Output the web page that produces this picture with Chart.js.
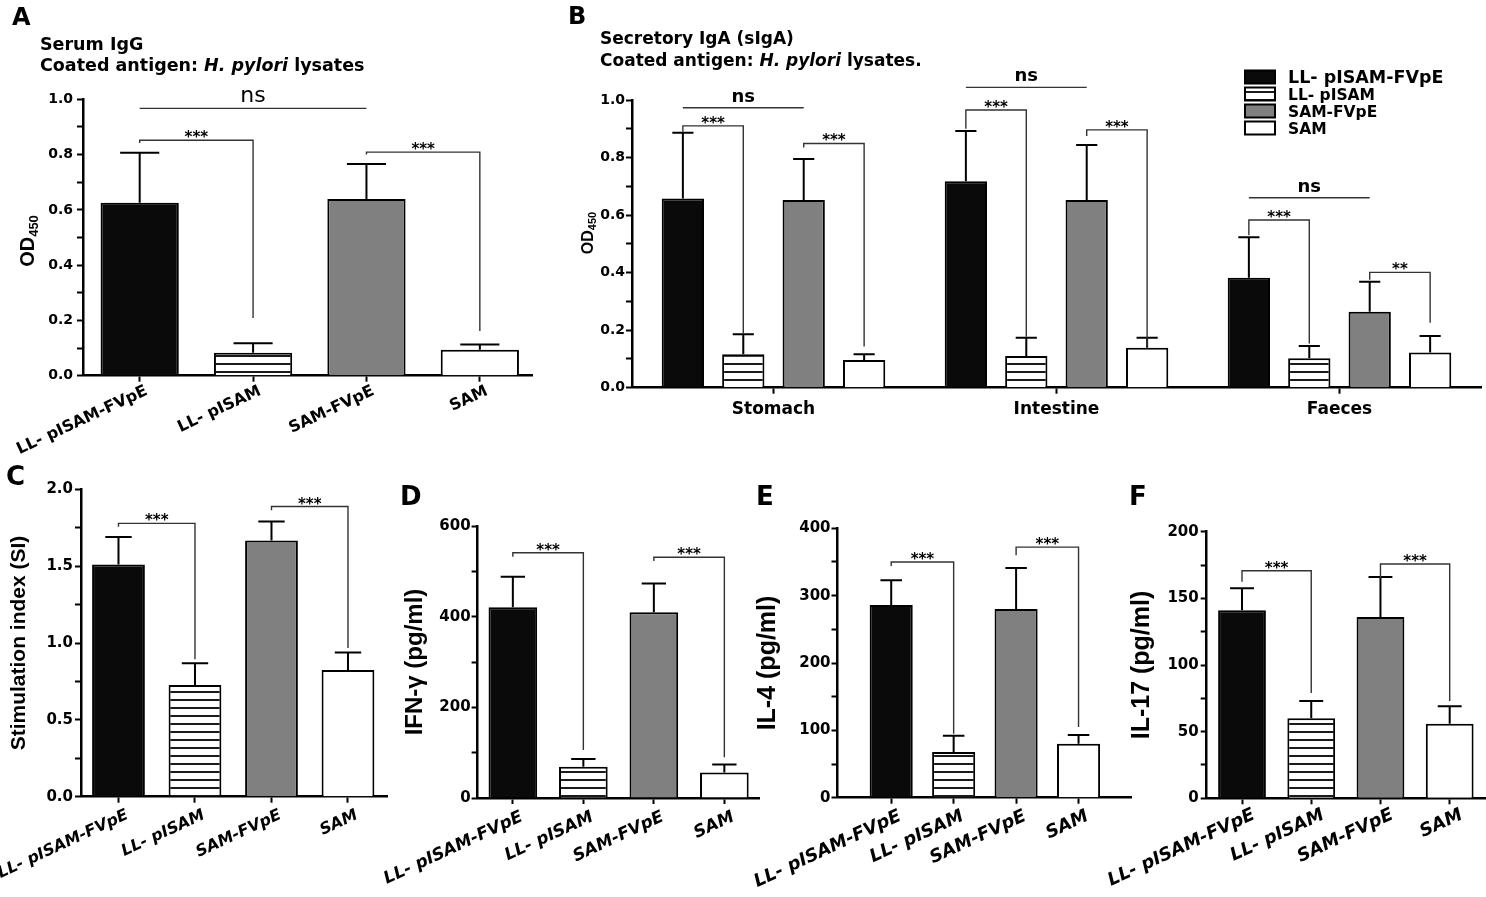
<!DOCTYPE html>
<html>
<head>
<meta charset="utf-8">
<title>Antibody and cytokine responses</title>
<script src="https://cdn.jsdelivr.net/npm/chart.js@4.4.1/dist/chart.umd.min.js"></script>
<style>
  html, body { margin: 0; padding: 0; background: #fff; }
  #fig { position: relative; width: 1486px; height: 897px; overflow: hidden; }
  #fig canvas { position: absolute; left: 0; top: 0; }
</style>
</head>
<body>
<div id="fig">
  <canvas id="chartA" width="1486" height="897"></canvas>
  <canvas id="chartB" width="1486" height="897"></canvas>
  <canvas id="chartC" width="1486" height="897"></canvas>
  <canvas id="chartD" width="1486" height="897"></canvas>
  <canvas id="chartE" width="1486" height="897"></canvas>
  <canvas id="chartF" width="1486" height="897"></canvas>
</div>
<script>
const groups = ['LL- pISAM-FVpE', 'LL- pISAM', 'SAM-FVpE', 'SAM'];
const sites = ['Stomach', 'Intestine', 'Faeces'];

// A: serum IgG, OD450 (mean and SD)
const iggMean = [0.626, 0.083, 0.639, 0.094];
const iggSd = [0.181, 0.034, 0.127, 0.019];

// B: secretory IgA, one array per group over Stomach, Intestine, Faeces
const sigaFvpe = [0.658, 0.718, 0.382];
const sigaFvpeSd = [0.228, 0.174, 0.141];
const sigaPlisam = [0.116, 0.110, 0.102];
const sigaPlisamSd = [0.070, 0.064, 0.043];
const sigaSamFvpe = [0.652, 0.652, 0.264];
const sigaSamFvpeSd = [0.143, 0.192, 0.104];
const sigaSam = [0.096, 0.139, 0.122];
const sigaSamSd = [0.020, 0.035, 0.058];

// C: stimulation index
const siMean = [1.51, 0.726, 1.667, 0.824];
const siSd = [0.179, 0.143, 0.123, 0.115];

// D-F: cytokines (pg/ml)
const ifnMean = [421, 69, 410, 56];
const ifnSd = [67, 17, 63, 18];
const il4Mean = [286, 68, 280, 80];
const il4Sd = [37, 24, 61, 13];
const il17Mean = [141, 60, 136, 56];
const il17Sd = [16.5, 13, 30, 13];

// significance brackets: bars a -> b, level y, leg ends yl / yr (data units)
const iggSig = [
  { a: 0, b: 2, y: 0.967, text: 'ns' },
  { a: 0, b: 1, y: 0.852, yl: 0.842, yr: 0.209, text: '***' },
  { a: 2, b: 3, y: 0.809, yl: 0.800, yr: 0.162, text: '***' }
];
const sigaSig = [
  { g: 0, a: 0, b: 2, y: 0.973, text: 'ns' },
  { g: 0, a: 0, b: 1, y: 0.910, yl: 0.890, yr: 0.189, text: '***' },
  { g: 0, a: 2, b: 3, y: 0.849, yl: 0.835, yr: 0.143, text: '***' },
  { g: 1, a: 0, b: 2, y: 1.044, text: 'ns' },
  { g: 1, a: 0, b: 1, y: 0.965, yl: 0.900, yr: 0.177, text: '***' },
  { g: 1, a: 2, b: 3, y: 0.896, yl: 0.875, yr: 0.143, text: '***' },
  { g: 2, a: 0, b: 2, y: 0.660, text: 'ns' },
  { g: 2, a: 0, b: 1, y: 0.583, yl: 0.530, yr: 0.154, text: '***' },
  { g: 2, a: 2, b: 3, y: 0.401, yl: 0.375, yr: 0.226, text: '**' }
];
const siSig = [
  { a: 0, b: 1, y: 1.778, yl: 1.756, yr: 0.895, text: '***' },
  { a: 2, b: 3, y: 1.888, yl: 1.864, yr: 0.967, text: '***' }
];
const ifnSig = [
  { a: 0, b: 1, y: 541, yl: 532, yr: 106, text: '***' },
  { a: 2, b: 3, y: 531, yl: 523, yr: 90, text: '***' }
];
const il4Sig = [
  { a: 0, b: 1, y: 350, yl: 344, yr: 95, text: '***' },
  { a: 2, b: 3, y: 372, yl: 360, yr: 105, text: '***' }
];
const il17Sig = [
  { a: 0, b: 1, y: 170.7, yl: 162.5, yr: 79, text: '***' },
  { a: 2, b: 3, y: 175.8, yl: 165, yr: 73, text: '***' }
];

const W = 1486, H = 897;
const FONT = "'DejaVu Sans', sans-serif";
const VFONT = "'Liberation Sans', Arial, sans-serif";

// horizontal hatching for the LL- pISAM group
const hatch = (() => {
  const c = document.createElement('canvas');
  c.width = 8; c.height = 8;
  const g = c.getContext('2d');
  g.fillStyle = '#fff'; g.fillRect(0, 0, 8, 8);
  g.fillStyle = '#1a1a1a'; g.fillRect(0, 3, 8, 2);
  return g.createPattern(c, 'repeat');
})();
const fills = ['#0a0a0a', hatch, '#808080', '#ffffff'];

const axisBorder = { display: true, color: '#000', width: 2.5 };
const axisGrid = { drawOnChartArea: false, drawTicks: true, tickLength: 6, tickWidth: 2, color: '#000', offset: false };

// upward SD bars
const errorBars = {
  id: 'errorBars',
  afterDatasetsDraw(chart) {
    const ctx = chart.ctx, ys = chart.scales.y;
    ctx.save();
    ctx.strokeStyle = '#000';
    ctx.lineWidth = 2;
    chart.data.datasets.forEach((ds, i) => {
      const meta = chart.getDatasetMeta(i);
      meta.data.forEach((bar, j) => {
        const top = ys.getPixelForValue(meta.controller.getParsed(j).y + ds.sd[j]);
        const half = bar.width / 4;
        ctx.beginPath();
        ctx.moveTo(bar.x, bar.y); ctx.lineTo(bar.x, top);
        ctx.moveTo(bar.x - half, top); ctx.lineTo(bar.x + half, top);
        ctx.stroke();
      });
    });
    ctx.restore();
  }
};

// significance brackets and their labels
const brackets = {
  id: 'brackets',
  afterDraw(chart, args, opts) {
    const ctx = chart.ctx, ys = chart.scales.y;
    const barX = (s, k) => (s.g === undefined ? chart.getDatasetMeta(0).data[k].x : chart.getDatasetMeta(k).data[s.g].x);
    ctx.save();
    ctx.strokeStyle = '#333';
    ctx.lineWidth = 1.4;
    ctx.fillStyle = '#000';
    ctx.textAlign = 'center';
    opts.items.forEach(s => {
      const xa = barX(s, s.a), xb = barX(s, s.b), y = ys.getPixelForValue(s.y);
      ctx.beginPath();
      ctx.moveTo(xa, ys.getPixelForValue(s.yl === undefined ? s.y : s.yl));
      ctx.lineTo(xa, y);
      ctx.lineTo(xb, y);
      ctx.lineTo(xb, ys.getPixelForValue(s.yr === undefined ? s.y : s.yr));
      ctx.stroke();
      if (s.text === 'ns') {
        ctx.font = opts.nsFont;
        ctx.fillText(s.text, (xa + xb) / 2, y - 6);
      } else {
        ctx.font = 'bold 15px ' + FONT;
        ctx.fillText(s.text, (xa + xb) / 2, y + 2);
      }
    });
    ctx.restore();
  }
};

function drawRuns(ctx, x, y, runs) {
  runs.forEach(([text, font]) => {
    ctx.font = font;
    ctx.fillText(text, x, y);
    x += ctx.measureText(text).width;
  });
}

function letter(ctx, t, x, y, size) {
  ctx.save();
  ctx.fillStyle = '#000';
  ctx.font = 'bold ' + size + 'px ' + FONT;
  ctx.fillText(t, x, y);
  ctx.restore();
}

function odLabel(ctx, cx, cy, size, sub) {
  ctx.save();
  ctx.fillStyle = '#000';
  ctx.translate(cx, cy);
  ctx.rotate(-Math.PI / 2);
  const big = 'bold ' + size + 'px ' + VFONT, small = 'bold ' + sub + 'px ' + VFONT;
  ctx.font = big;
  const w1 = ctx.measureText('OD').width;
  ctx.font = small;
  const w2 = ctx.measureText('450').width;
  const x = -(w1 + w2) / 2, base = size * 0.36;
  ctx.font = big; ctx.fillText('OD', x, base);
  ctx.font = small; ctx.fillText('450', x + w1, base + sub * 0.3);
  ctx.restore();
}

function yScale(p) {
  return {
    min: 0,
    max: p.yMax,
    afterFit: s => { s.width = p.yW; s.paddingTop = 0; s.paddingBottom = 0; },
    border: axisBorder,
    grid: axisGrid,
    title: p.title
      ? { display: true, text: p.title, color: '#000', padding: 0, font: { family: VFONT, size: p.titleSize, weight: 'bold', lineHeight: 1 } }
      : { display: false },
    ticks: {
      stepSize: p.step,
      autoSkip: false,
      padding: p.tickPad,
      color: '#000',
      font: p.tickFont,
      callback: v => (Math.abs(v / p.major - Math.round(v / p.major)) < 1e-6 ? v.toFixed(p.dec) : '')
    }
  };
}

function layoutPad(p, xH) {
  return { left: p.left - p.yW, right: W - p.right, top: p.top, bottom: H - p.bottom - xH };
}

// one bar per group, on a linear x axis so the side gaps can be set
function groupChart(id, p) {
  const xH = H - p.bottom;
  return new Chart(document.getElementById(id), {
    type: 'bar',
    data: {
      datasets: [{
        data: p.mean.map((v, i) => ({ x: i, y: v })),
        sd: p.sd,
        backgroundColor: fills,
        borderColor: '#000',
        borderWidth: 2,
        categoryPercentage: 1,
        barPercentage: 0.69
      }]
    },
    options: {
      responsive: false,
      animation: false,
      events: [],
      layout: { padding: layoutPad(p, xH) },
      plugins: {
        legend: { display: false },
        tooltip: { enabled: false },
        brackets: { items: p.sig, nsFont: '22px ' + FONT }
      },
      scales: {
        x: {
          type: 'linear',
          offset: false,
          bounds: 'data',
          min: -p.pad[0],
          max: groups.length - 1 + p.pad[1],
          afterBuildTicks: s => { s.ticks = groups.map((g, i) => ({ value: i })); },
          afterFit: s => { s.height = xH; s.paddingLeft = 0; s.paddingRight = 0; },
          border: axisBorder,
          grid: axisGrid,
          ticks: {
            autoSkip: false,
            minRotation: 25,
            maxRotation: 25,
            labelOffset: p.labelShift,
            padding: p.labelPad,
            color: '#000',
            font: p.labelFont,
            callback: v => groups[v]
          }
        },
        y: yScale(p)
      }
    },
    plugins: [errorBars, brackets, { id: 'decor', afterDraw: chart => p.decor(chart.ctx) }]
  });
}

const tickFont = { family: FONT, size: 15, weight: 'bold' };
const labelItalic = { family: FONT, size: 18, weight: 'bold', style: 'italic' };

groupChart('chartA', {
  mean: iggMean, sd: iggSd, sig: iggSig,
  left: 83, right: 532, top: 99.3, bottom: 375.7, yW: 50,
  yMax: 1, step: 0.1, major: 0.2, dec: 1, tickPad: 4,
  pad: [0.5, 0.46], labelShift: 7, labelPad: 0,
  labelFont: { family: FONT, size: 16, weight: 'bold' },
  tickFont: { family: FONT, size: 14, weight: 'bold' },
  decor: ctx => {
    letter(ctx, 'A', 12, 25, 24);
    ctx.fillStyle = '#000';
    const b = 'bold 17.5px ' + FONT, bi = 'italic bold 17.5px ' + FONT;
    drawRuns(ctx, 40, 50, [['Serum IgG', b]]);
    drawRuns(ctx, 40, 71, [['Coated antigen: ', b], ['H. pylori', bi], [' lysates', b]]);
    odLabel(ctx, 27, 241, 20, 13);
  }
});

groupChart('chartC', {
  mean: siMean, sd: siSd, sig: siSig,
  left: 81, right: 387, top: 489.3, bottom: 796.7, yW: 72.5,
  yMax: 2, step: 0.25, major: 0.5, dec: 1, tickPad: 2,
  pad: [0.49, 0.51], labelShift: 9, labelPad: 3,
  labelFont: { family: FONT, size: 16, weight: 'bold', style: 'italic' },
  tickFont: tickFont,
  title: 'Stimulation index (SI)', titleSize: 21,
  decor: ctx => letter(ctx, 'C', 6, 485, 26)
});

groupChart('chartD', {
  mean: ifnMean, sd: ifnSd, sig: ifnSig,
  left: 477.6, right: 759.6, top: 526, bottom: 798, yW: 74.6,
  yMax: 600, step: 100, major: 200, dec: 0, tickPad: 1,
  pad: [0.5, 0.5], labelShift: 9, labelPad: 3,
  labelFont: { family: FONT, size: 17, weight: 'bold', style: 'italic' },
  tickFont: tickFont,
  title: 'IFN-\u03b3 (pg/ml)', titleSize: 24,
  decor: ctx => letter(ctx, 'D', 400, 505, 26)
});

groupChart('chartE', {
  mean: il4Mean, sd: il4Sd, sig: il4Sig,
  left: 837.5, right: 1131, top: 528.3, bottom: 797.7, yW: 81.5,
  yMax: 400, step: 50, major: 100, dec: 0, tickPad: 1,
  pad: [0.86, 0.84], labelShift: 9, labelPad: 2,
  labelFont: labelItalic,
  tickFont: tickFont,
  title: 'IL-4 (pg/ml)', titleSize: 25,
  decor: ctx => letter(ctx, 'E', 756, 505, 26)
});

groupChart('chartF', {
  mean: il17Mean, sd: il17Sd, sig: il17Sig,
  left: 1206.7, right: 1485, top: 531.7, bottom: 798.3, yW: 77,
  yMax: 200, step: 25, major: 50, dec: 0, tickPad: 2,
  pad: [0.51, 0.51], labelShift: 12, labelPad: 0,
  labelFont: labelItalic,
  tickFont: tickFont,
  title: 'IL-17 (pg/ml)', titleSize: 25,
  decor: ctx => letter(ctx, 'F', 1129, 505, 26)
});

// B: grouped bars by site
const pB = { left: 632, right: 1481, top: 100, bottom: 387.7, yW: 50, yMax: 1, step: 0.1, major: 0.2, dec: 1, tickPad: 1,
  tickFont: { family: FONT, size: 14, weight: 'bold' } };
const xHB = H - pB.bottom;
const sigaSets = [
  [sigaFvpe, sigaFvpeSd], [sigaPlisam, sigaPlisamSd], [sigaSamFvpe, sigaSamFvpeSd], [sigaSam, sigaSamSd]
];

new Chart(document.getElementById('chartB'), {
  type: 'bar',
  data: {
    labels: sites,
    datasets: sigaSets.map(([vals, sd], i) => ({
      label: groups[i],
      data: vals,
      sd: sd,
      backgroundColor: fills[i],
      borderColor: '#000',
      borderWidth: 2,
      categoryPercentage: 0.854,
      barPercentage: 0.70
    }))
  },
  options: {
    responsive: false,
    animation: false,
    events: [],
    layout: { padding: layoutPad(pB, xHB) },
    plugins: {
      legend: { display: false },
      tooltip: { enabled: false },
      brackets: { items: sigaSig, nsFont: 'bold 18px ' + FONT }
    },
    scales: {
      x: {
        type: 'category',
        offset: true,
        afterFit: s => { s.height = xHB; s.paddingLeft = 0; s.paddingRight = 0; },
        border: axisBorder,
        grid: axisGrid,
        ticks: { minRotation: 0, maxRotation: 0, padding: 6, color: '#000', font: { family: FONT, size: 17, weight: 'bold' } }
      },
      y: yScale(pB)
    }
  },
  plugins: [errorBars, brackets, {
    id: 'decorB',
    afterDraw(chart) {
      const ctx = chart.ctx;
      letter(ctx, 'B', 568, 24, 24);
      ctx.fillStyle = '#000';
      const b = 'bold 17px ' + FONT, bi = 'italic bold 17px ' + FONT;
      drawRuns(ctx, 600, 44, [['Secretory IgA (sIgA)', b]]);
      drawRuns(ctx, 600, 66, [['Coated antigen: ', b], ['H. pylori', bi], [' lysates.', b]]);
      odLabel(ctx, 587, 233, 16, 11);
      // legend
      ctx.save();
      chart.data.datasets.forEach((ds, i) => {
        const cy = 77 + i * 17;
        ctx.fillStyle = ds.backgroundColor;
        ctx.fillRect(1245, cy - 6.5, 30, 13);
        ctx.strokeStyle = '#000';
        ctx.lineWidth = 2;
        ctx.strokeRect(1245, cy - 6.5, 30, 13);
        const size = i === 0 ? 17.5 : 15.5;
        ctx.fillStyle = '#000';
        ctx.font = 'bold ' + size + 'px ' + FONT;
        ctx.fillText(ds.label, 1288, cy + size * 0.36);
      });
      ctx.restore();
    }
  }]
});
</script>
</body>
</html>
